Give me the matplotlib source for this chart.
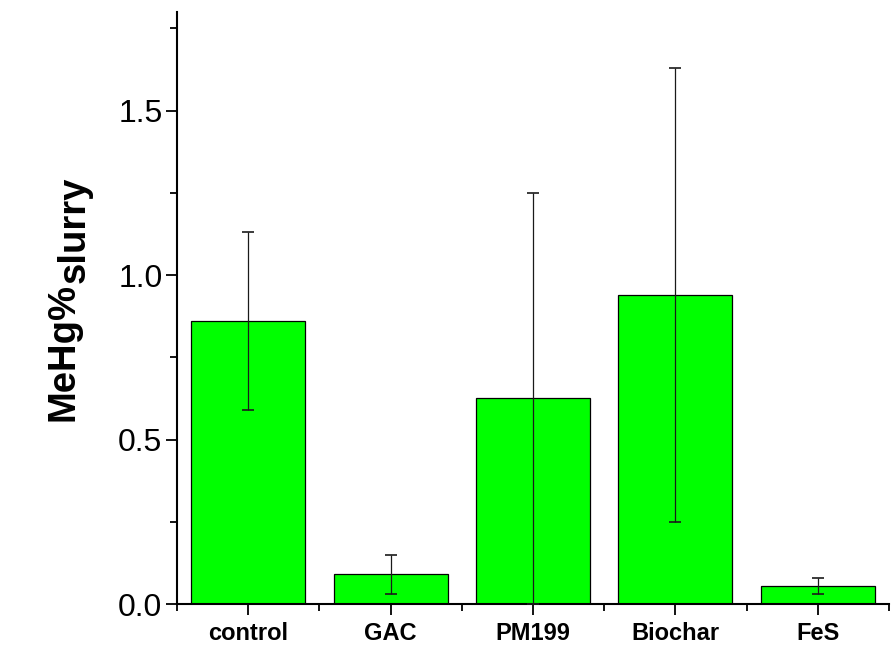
import matplotlib
matplotlib.use("Agg")
import matplotlib.pyplot as plt
from matplotlib.ticker import MultipleLocator, FixedLocator

categories = ["control", "GAC", "PM199", "Biochar", "FeS"]
means = [0.86, 0.09, 0.625, 0.94, 0.055]
errors = [0.27, 0.06, 0.625, 0.69, 0.025]

plt.rcParams['font.family'] = ['Liberation Sans', 'DejaVu Sans']

W, H = 891, 649
fig = plt.figure(figsize=(W / 100, H / 100), dpi=100)
ax = fig.add_axes([177 / W, 45 / H, (889 - 177) / W, (604 - 12) / H])

x = list(range(len(categories)))
ax.bar(x, means, width=0.8, color='#00FF00', edgecolor='black', linewidth=0.9, zorder=2)
ax.errorbar(x, means, yerr=errors, fmt='none', ecolor='#1a1a1a', elinewidth=0.9,
            capsize=4.5, capthick=1.2, zorder=3)

ax.set_xlim(-0.5, len(categories) - 0.5)
ax.set_ylim(0, 1.8)

ax.spines['top'].set_visible(False)
ax.spines['right'].set_visible(False)
for s in ['left', 'bottom']:
    ax.spines[s].set_linewidth(1.5)

ax.yaxis.set_major_locator(MultipleLocator(0.5))
ax.yaxis.set_minor_locator(MultipleLocator(0.25))
ax.set_yticks([0.0, 0.5, 1.0, 1.5])
ax.set_yticklabels(["0.0", "0.5", "1.0", "1.5"])
ax.set_xticks(x)
ax.set_xticklabels(categories, fontweight='bold', fontsize=17)
ax.xaxis.set_minor_locator(FixedLocator([i - 0.5 for i in range(len(categories) + 1)]))

ax.tick_params(axis='y', which='major', direction='out', length=8, width=1.3, labelsize=23, pad=2.5)
ax.tick_params(axis='y', which='minor', direction='out', length=5, width=1.3)
ax.tick_params(axis='x', which='major', direction='out', length=8, width=1.3, pad=5)
ax.tick_params(axis='x', which='minor', direction='out', length=5, width=1.3)

# y label: MeHg% with same-size lowered "slurry"
t1 = fig.text(74 / W, (H - 421) / H, "MeHg%", rotation=90, rotation_mode='anchor',
              ha='left', va='baseline', fontsize=27.5, fontweight='bold')
fig.canvas.draw()
bb = t1.get_window_extent()
fig.text((74 + 11) / W, bb.y1 / H, "slurry", rotation=90, rotation_mode='anchor',
         ha='left', va='baseline', fontsize=27.5, fontweight='bold')

fig.savefig("out.png", dpi=100)
